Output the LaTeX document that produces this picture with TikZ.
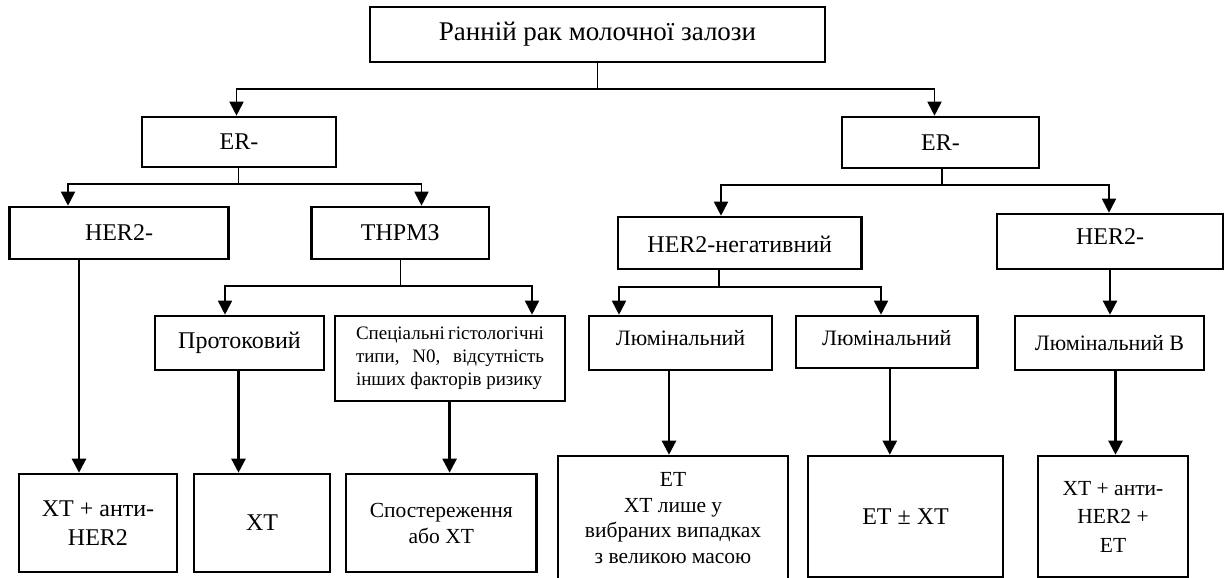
\documentclass[tikz,border=0pt]{standalone}
\usepackage{fontspec}
\setmainfont{Liberation Serif}
\usetikzlibrary{arrows.meta,calc}
\newcommand{\upby}[2]{\raisebox{#1}[\height][\depth]{#2}}
\begin{document}
\begin{tikzpicture}[x=1pt,y=-1pt,
  box/.style={draw, line width=2.6pt, rectangle, inner sep=0pt, align=center, fill=white},
  arr/.style={line width=2.4pt, -{Triangle[width=14pt,length=14pt]}},
  bar/.style={line width=1.8pt, -{Triangle[width=14pt,length=14pt]}},
  stem/.style={line width=1.2pt},
  fBig/.style={font=\fontsize{24}{29}\selectfont},
  fMid/.style={font=\fontsize{22}{27}\selectfont},
  fS/.style={font=\fontsize{19}{23}\selectfont}
]
\useasboundingbox (0,0) rectangle (1224,578);

% boxes
\node[box, minimum width=455pt, minimum height=55pt, font=\fontsize{27}{32}\selectfont] (root) at (597.5,34.5) {Ранній рак молочної залози};

\node[box, fBig, minimum width=194pt, minimum height=50pt] (erL) at (239,142) {ER-};
\node[box, fBig, minimum width=197pt, minimum height=51pt] (erR) at (940.5,142.5) {ER-};

\node[box, fBig, minimum width=218.5pt, minimum height=52pt] (her2L) at (119,233) {HER2-};
\node[box, fBig, minimum width=177.4pt, minimum height=52pt] (tnbc) at (400.3,233) {ТНРМЗ};
\node[box, fBig, minimum width=243.5pt, minimum height=52pt] (her2neg) at (739.75,243) {\upby{-1.5pt}{HER2-негативний}};
\node[box, fBig, minimum width=226pt, minimum height=55pt] (her2pos) at (1110,241.5) {\upby{4.5pt}{HER2-}};

\node[box, fBig, minimum width=169pt, minimum height=54pt] (prot) at (239.5,343) {Протоковий};
\node[box, fS, minimum width=230pt, minimum height=85pt, text width=188pt, align=justify] (spec) at (450,358.5) {Спеціальні гістологічні типи, N0, відсутність інших факторів ризику};
\node[box, fMid, minimum width=183pt, minimum height=54pt] (lumA) at (680.5,343) {\upby{5pt}{Люмінальний}};
\node[box, fMid, minimum width=181.6pt, minimum height=52pt] (lumB1) at (886.8,342) {\upby{4pt}{Люмінальний}};
\node[box, fMid, minimum width=189pt, minimum height=54pt] (lumB2) at (1109.5,343) {Люмінальний В};

\node[box, minimum width=158pt, minimum height=98pt, font=\fontsize{24}{29}\selectfont] (b1) at (98,523) {ХТ + анти-\\HER2};
\node[box, fBig, minimum width=136pt, minimum height=98pt] (b2) at (262,523) {ХТ};
\node[box, minimum width=190.6pt, minimum height=98pt, font=\fontsize{21.5}{26}\selectfont] (b3) at (441.3,523) {Спостереження\\або ХТ};
\node[box, minimum width=230pt, minimum height=124pt, font=\fontsize{21.5}{25.7}\selectfont] (b4) at (673,518) {ЕТ\\ХТ лише у\\вибраних випадках\\з великою масою};
\node[box, fBig, minimum width=195pt, minimum height=121pt] (b5) at (905.5,516.5) {ЕТ ± ХТ};
\node[box, minimum width=150pt, minimum height=121pt, font=\fontsize{21.5}{28.5}\selectfont] (b6) at (1113,516.5) {ХТ + анти-\\HER2 +\\ЕТ};

% level 1
\coordinate (j0) at (598,89);
\draw[stem] (root.south) -- (root.south |- j0);
\draw[bar] (root.south |- j0) -| ([xshift=-2.5pt]erL.north);
\draw[bar] (root.south |- j0) -| ([xshift=-6pt]erR.north);

% level 2 left
\coordinate (j1) at (238.5,184);
\draw[stem] ([xshift=-0.5pt]erL.south) -- (j1);
\draw[bar] (j1) -| ([xshift=-51pt]her2L.north);
\draw[bar] (j1) -| ([xshift=21.2pt]tnbc.north);

% level 2 right
\coordinate (j2) at (942,185);
\draw[stem] ([xshift=1.5pt]erR.south) -- (j2);
\draw[bar] (j2) -| ([xshift=-18.75pt]her2neg.north);
\draw[bar] (j2) -| ([xshift=-1pt]her2pos.north);

% TNBC branch
\coordinate (j3) at (400.3,286);
\draw[stem] (tnbc.south) -- (j3);
\draw[bar] (j3) -| ([xshift=-14.5pt]prot.north);
\draw[bar] (j3) -| ([xshift=82pt]spec.north);

% HER2-neg branch
\coordinate (j4) at (719,287);
\draw[stem] ([xshift=-20.75pt]her2neg.south) -- (j4);
\draw[bar] (j4) -| ([xshift=-61.5pt]lumA.north);
\draw[bar] (j4) -| ([xshift=-5.8pt]lumB1.north);

% HER2-pos to Luminal B
\draw[arr] (her2pos.south) -- (her2pos.south |- lumB2.north);

% to outcomes
\draw[arr] ([xshift=-40pt]her2L.south) -- ([xshift=-40pt]her2L.south |- b1.north);
\draw[arr] ([xshift=-1pt]prot.south) -- ([xshift=-1pt]prot.south |- b2.north);
\draw[arr] ([xshift=-0.4pt]spec.south) -- ([xshift=-0.4pt]spec.south |- b3.north);
\draw[arr] ([xshift=-11.5pt]lumA.south) -- ([xshift=-11.5pt]lumA.south |- b4.north);
\draw[arr] ([xshift=3pt]lumB1.south) -- ([xshift=3pt]lumB1.south |- b5.north);
\draw[arr] ([xshift=6pt]lumB2.south) -- ([xshift=6pt]lumB2.south |- b6.north);
\end{tikzpicture}
\end{document}
